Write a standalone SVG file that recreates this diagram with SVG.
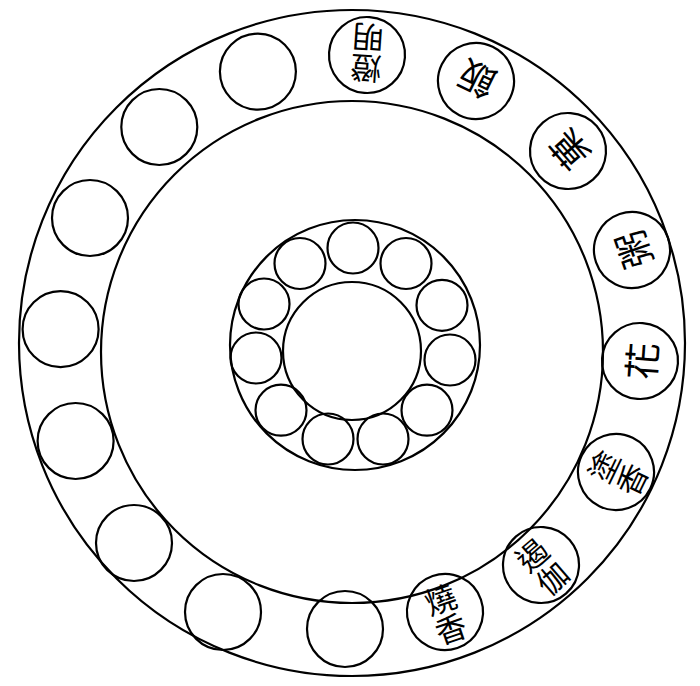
<svg xmlns="http://www.w3.org/2000/svg" width="700" height="686" viewBox="0 0 700 686">
<style>
.c{fill:none;stroke:#000;stroke-width:2.2}
.t{font-family:"Noto Sans CJK TC","Noto Sans CJK JP",sans-serif;fill:#000;text-anchor:middle;dominant-baseline:central}
.t2{font-size:31px}
.t1{font-size:37px}
</style>
<rect width="700" height="686" fill="#fff"/>
<g id="rings">
<circle class="c" cx="352" cy="343" r="333"/>
<circle class="c" cx="352" cy="352" r="251"/>
<circle class="c" cx="355" cy="345" r="125"/>
<circle class="c" cx="352" cy="351" r="69"/>
</g>
<g id="inner-circles">
<circle class="c" cx="353" cy="248" r="25.5"/>
<circle class="c" cx="406" cy="263.5" r="25.5"/>
<circle class="c" cx="442" cy="305.3" r="25.5"/>
<circle class="c" cx="450" cy="360" r="25.5"/>
<circle class="c" cx="427" cy="410.2" r="25.5"/>
<circle class="c" cx="383" cy="439" r="25.5"/>
<circle class="c" cx="328" cy="439" r="25.5"/>
<circle class="c" cx="281" cy="410.2" r="25.5"/>
<circle class="c" cx="256" cy="358" r="25.5"/>
<circle class="c" cx="264" cy="304" r="25.5"/>
<circle class="c" cx="300" cy="263.5" r="25.5"/>
</g>
<g id="n0" transform="translate(367,55) rotate(-176)"><circle class="c" r="38"/><text class="t t2" y="-15">燈</text><text class="t t2" y="16">明</text></g>
<g id="n1" transform="translate(476,81) rotate(-154)"><circle class="c" r="38"/><text class="t t1">飯</text></g>
<g id="n2" transform="translate(568,151) rotate(-131)"><circle class="c" r="38"/><text class="t t1">菓</text></g>
<g id="n3" transform="translate(632,250) rotate(-109)"><circle class="c" r="38"/><text class="t t1">粥</text></g>
<g id="n4" transform="translate(640,361) rotate(-86)"><circle class="c" r="38"/><text class="t t1">花</text></g>
<g id="n5" transform="translate(616,472) rotate(-64)"><circle class="c" r="38"/><text class="t t2" y="-15">塗</text><text class="t t2" y="16">香</text></g>
<g id="n6" transform="translate(541,565) rotate(-41)"><circle class="c" r="38"/><text class="t t2" y="-15">遏</text><text class="t t2" y="16">伽</text></g>
<g id="n7" transform="translate(445,612) rotate(-19)"><circle class="c" r="38"/><text class="t t2" y="-15">燒</text><text class="t t2" y="16">香</text></g>
<g id="n8"><circle class="c" cx="345" cy="629" r="38"/></g>
<g id="n9"><circle class="c" cx="223" cy="612" r="38"/></g>
<g id="n10"><circle class="c" cx="134" cy="543" r="38"/></g>
<g id="n11"><circle class="c" cx="75.6" cy="441" r="38"/></g>
<g id="n12"><circle class="c" cx="60.6" cy="329.2" r="38"/></g>
<g id="n13"><circle class="c" cx="90" cy="218" r="38"/></g>
<g id="n14"><circle class="c" cx="159.3" cy="127" r="38"/></g>
<g id="n15"><circle class="c" cx="257.9" cy="71.6" r="38"/></g>
<g id="connectors"/>
</svg>
